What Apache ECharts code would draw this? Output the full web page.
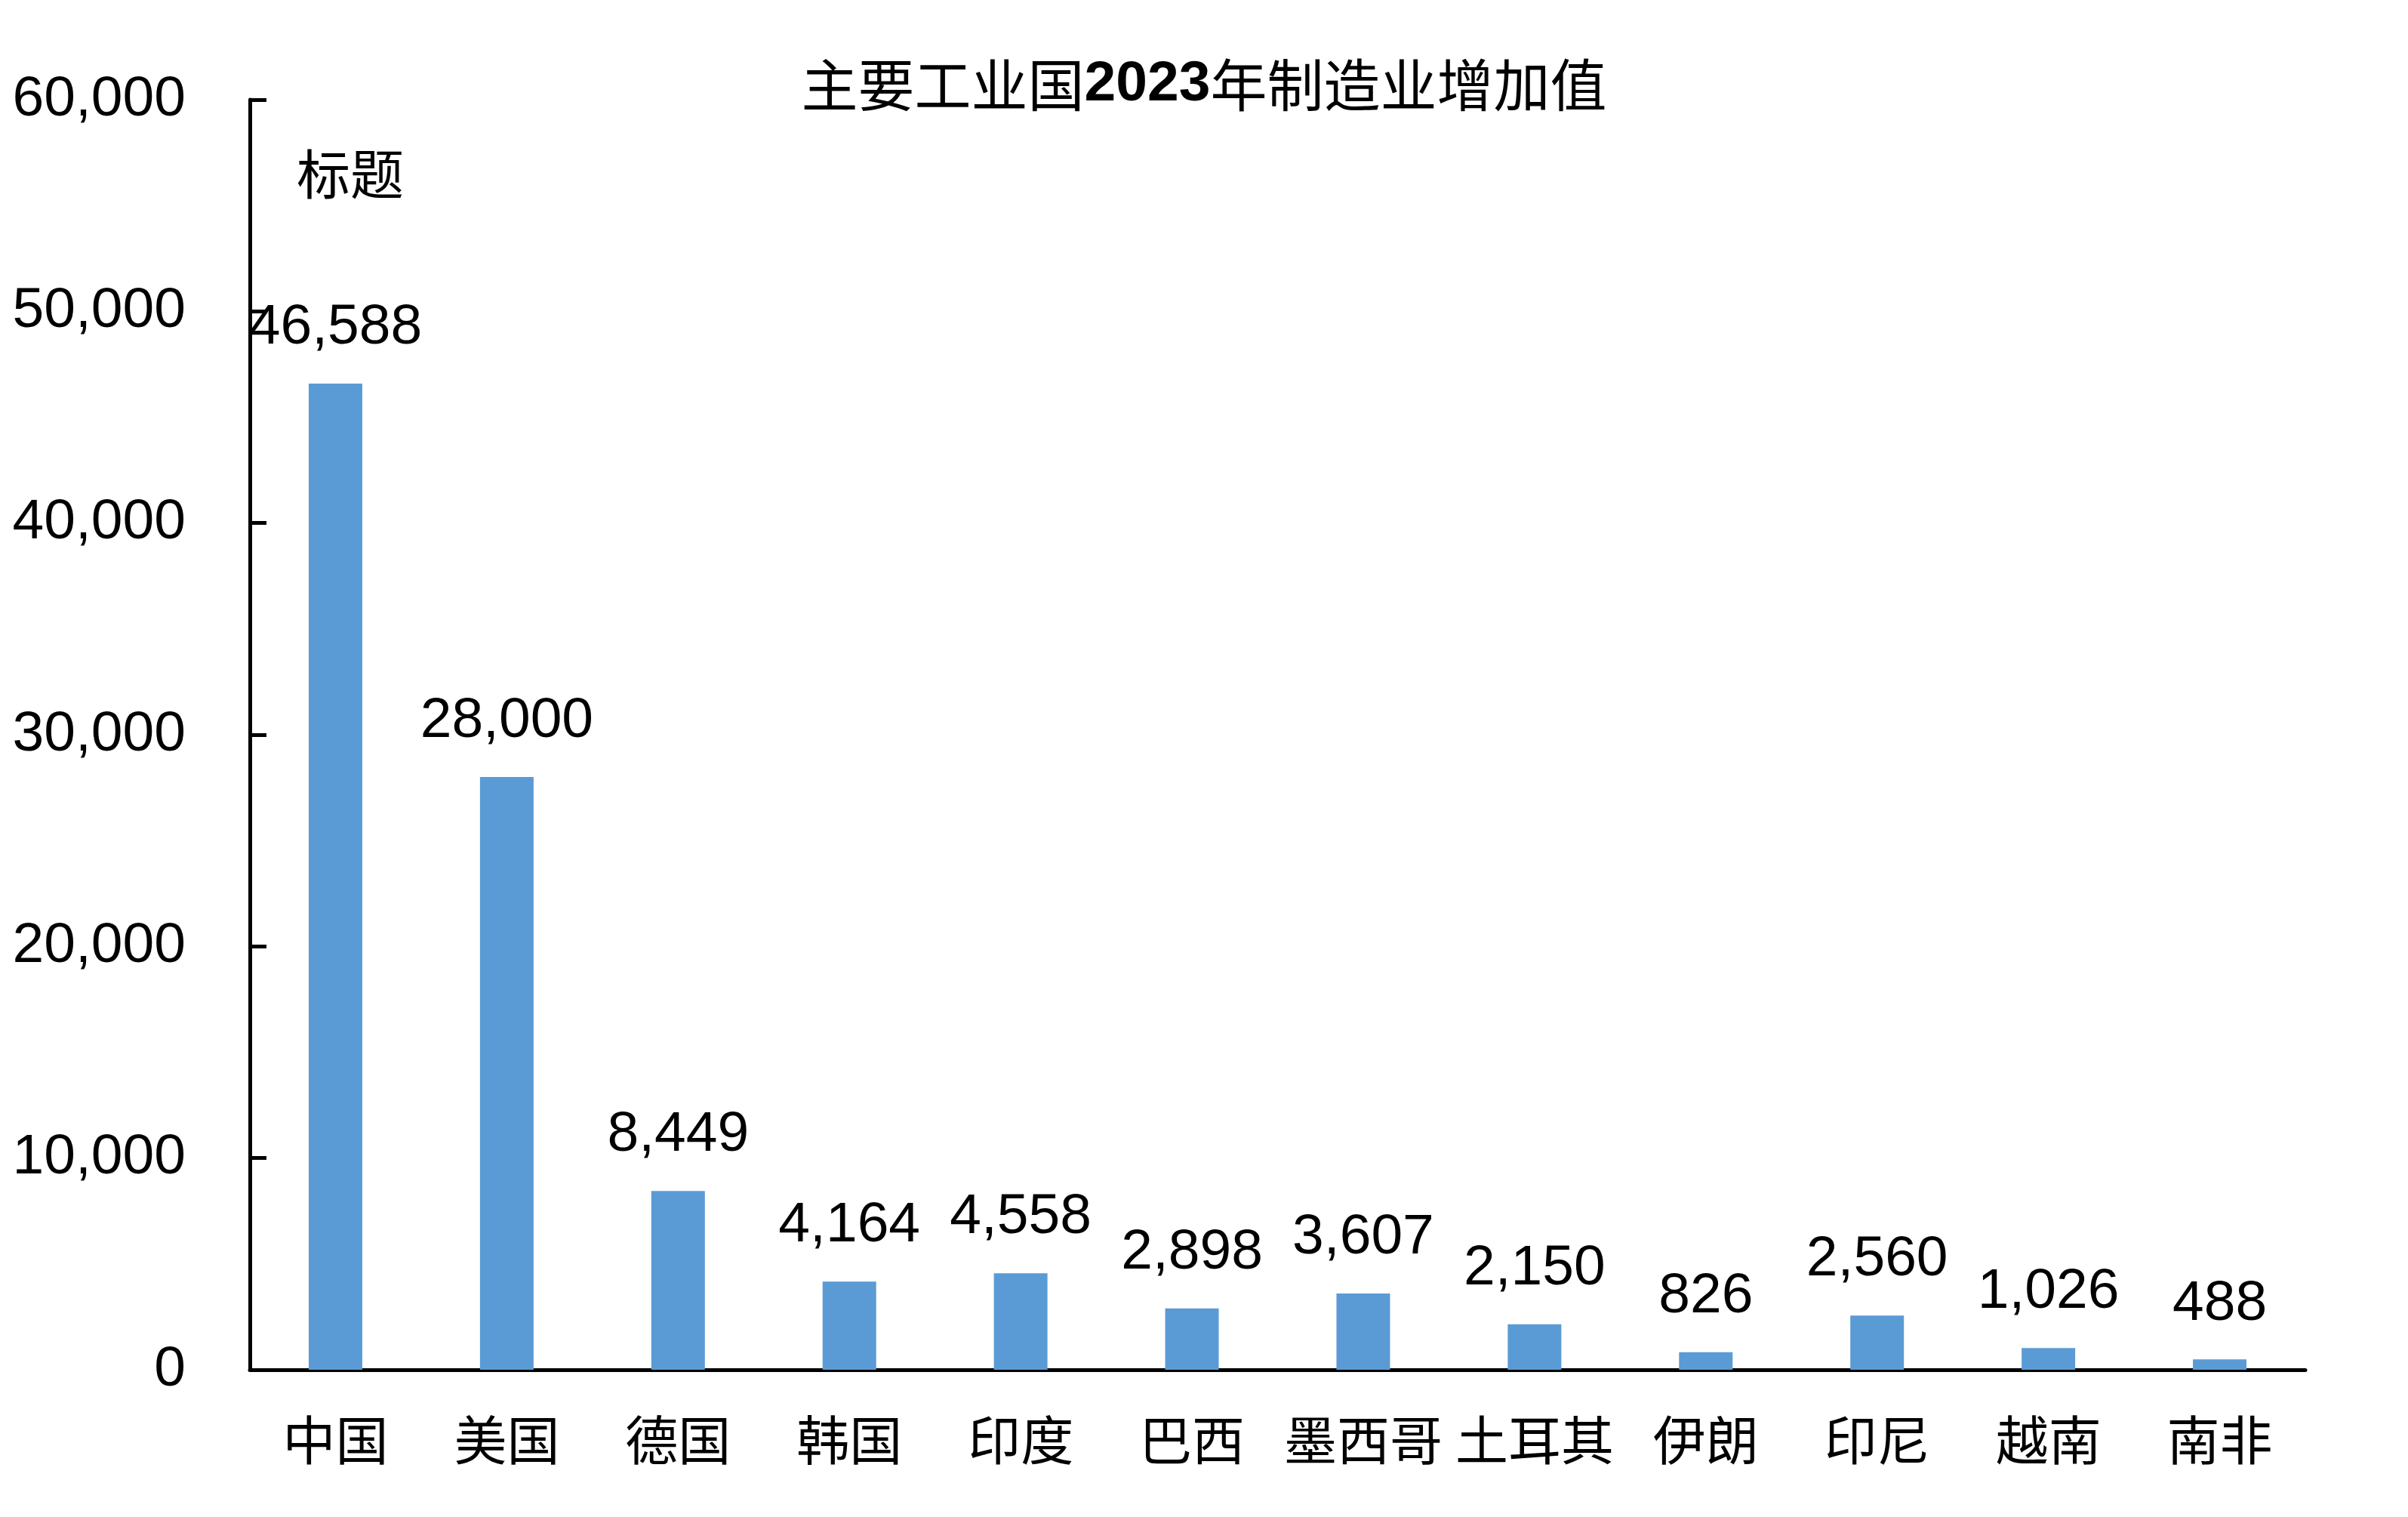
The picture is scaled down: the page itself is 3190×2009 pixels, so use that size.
<!DOCTYPE html>
<html>
<head>
<meta charset="utf-8">
<script src="https://cdn.jsdelivr.net/npm/echarts@6/dist/echarts.min.js"></script>
<style>
html,body{margin:0;padding:0;background:#fff;}
#chart{width:3190px;height:2009px;}
</style>
</head>
<body>
<div id="chart"></div>
<script>
const categories = ['中国','美国','德国','韩国','印度','巴西','墨西哥','土耳其','伊朗','印尼','越南','南非'];
const values = [46588, 28000, 8449, 4164, 4558, 2898, 3607, 2150, 826, 2560, 1026, 488];
const yTicks = [0, 10000, 20000, 30000, 40000, 50000, 60000];

const latin = "'Liberation Sans', Arial, sans-serif";
const cjk = "'Noto Sans CJK SC', 'Liberation Sans', sans-serif";
const fmt = v => v.toLocaleString('en-US');

const chart = echarts.init(document.getElementById('chart'), null, {renderer: 'canvas'});
chart.setOption({
  backgroundColor: '#ffffff',
  animation: false,
  title: [{
    text: '{a|主要工业国}{b|2023}{a|年制造业增加值}',
    left: 'center',
    top: 70,
    textStyle: {
      rich: {
        a: {fontFamily: cjk, fontSize: 75, color: '#000', fontWeight: 'normal'},
        b: {fontFamily: latin, fontSize: 75, color: '#000', fontWeight: 'bold'}
      }
    }
  }, {
    text: '标题',
    left: 388,
    top: 190,
    textStyle: {fontFamily: cjk, fontSize: 71, color: '#000', fontWeight: 'normal'}
  }],
  grid: {left: 331, right: 136, top: 132, bottom: 195, containLabel: false},
  xAxis: {
    type: 'category',
    data: categories,
    axisLine: {show: true, lineStyle: {color: '#000', width: 5}},
    axisTick: {show: false},
    axisLabel: {
      interval: 0,
      margin: 58,
      fontFamily: cjk,
      fontSize: 70,
      color: '#000'
    }
  },
  yAxis: {
    type: 'value',
    min: yTicks[0],
    max: yTicks[yTicks.length - 1],
    interval: yTicks[1] - yTicks[0],
    axisLine: {show: true, lineStyle: {color: '#000', width: 5}},
    axisTick: {show: true, inside: true, length: 22, lineStyle: {color: '#000', width: 5}},
    splitLine: {show: false},
    axisLabel: {
      margin: 85,
      fontFamily: latin,
      fontSize: 75,
      color: '#000',
      formatter: v => fmt(v)
    }
  },
  series: [{
    type: 'bar',
    data: values,
    barWidth: 71,
    itemStyle: {color: '#5B9BD5'},
    label: {
      show: true,
      position: 'top',
      distance: 36,
      fontFamily: latin,
      fontSize: 75,
      color: '#000',
      formatter: p => fmt(p.value)
    }
  }]
});
</script>
</body>
</html>
